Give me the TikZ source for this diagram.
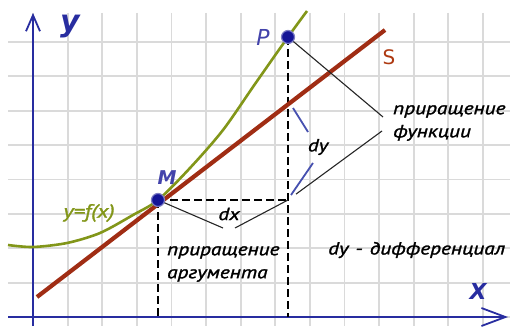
\documentclass[tikz,border=0pt]{standalone}
\usepackage{fontspec}
\setmainfont{DejaVu Sans}
\newfontfamily\lblfont{PT Sans}[FakeStretch=1.22, FakeBold=1.5]
\usetikzlibrary{arrows.meta,positioning,calc}

\definecolor{axisblue}{RGB}{40,45,160}
\definecolor{curveolive}{RGB}{130,150,25}
\definecolor{secantred}{RGB}{160,45,20}
\definecolor{gridgray}{RGB}{218,218,218}
\definecolor{dotblue}{RGB}{20,20,150}
\definecolor{bracketblue}{RGB}{70,80,175}

\begin{document}
\begin{tikzpicture}[x=1pt, y=-1pt,
    gridline/.style={gridgray, line width=1.8pt},
    axis/.style={axisblue, line width=2.6pt},
    guide/.style={black, line width=1.5pt, dash pattern=on 8pt off 4pt},
    pointer/.style={black!85, line width=1.1pt},
    dot/.style={circle, fill=dotblue, draw=dotblue!55, line width=1.2pt, minimum size=13pt, inner sep=0pt},
    lbl/.style={font=\lblfont\itshape\fontsize{17.5}{23}\selectfont, inner sep=0pt}]
    \useasboundingbox (0,0) rectangle (513,326);

    % Grid (one cell is about 34.5 px)
    \foreach \i in {0,...,13}
        \draw[gridline] ({33+34.6*\i},13) -- ({33+34.6*\i},326);
    \foreach \j in {0,...,8}
        \draw[gridline] (8,{317-34.4*\j}) -- (510,{317-34.4*\j});

    % Axes
    \draw[axis, -{Straight Barb[length=16pt, width=14pt, line width=1.8pt]}] (33,326) -- (33,13);
    \draw[axis, -{Straight Barb[length=24pt, width=18pt, line width=1.8pt]}] (8,317) -- (508,317);
    \node[axisblue, font=\bfseries\itshape\fontsize{30}{30}\selectfont, inner sep=0pt] (ylabel) at (70,27) {y};
    \node[axisblue, font=\bfseries\itshape\fontsize{22}{22}\selectfont, inner sep=0pt] (xlabel) at (478,291) {X};

    % Points M and P, and helper points
    \coordinate (M) at (158,200);
    \coordinate (P) at (288,37);
    \coordinate (Mfoot) at (158,317);
    \coordinate (Pfoot) at (288,317);
    \coordinate (C) at (288,200);

    % Dashed guides
    \draw[guide] (P) -- (Pfoot);
    \draw[guide] (M) -- (Mfoot);
    \draw[guide] (M) -- (C);

    % Tangent line S
    \coordinate (Sa) at (37,297);
    \coordinate (Sb) at (385,30);
    \draw[secantred, line width=4.2pt] (Sa) -- (Sb);
    \node[secantred!85!orange, font=\fontsize{20}{20}\selectfont, inner sep=0pt] (Slabel) at (389,57) {S};

    % Curve y=f(x)
    \draw[curveolive, line width=2.6pt] plot[smooth] coordinates
        {(8,245) (33,247) (67,243) (100,233) (133,215) (158,200) (190,168) (223,130) (255,84) (288,37) (307,11)};
    \node[lbl, curveolive, font=\lblfont\itshape\fontsize{19}{19}\selectfont] (flabel) at (89,213) {y=f(x)};

    % dx bracket
    \node[lbl] (dx) at (229,214) {dx};
    \coordinate (dxa) at (223,228);
    \coordinate (dxb) at (235,228);
    \draw[pointer] (M) -- (dxa);
    \draw[pointer] (dxb) -- (C);

    % dy bracket
    \node[lbl] (dy) at (318,147) {dy};
    \coordinate (dya) at (293,108);
    \coordinate (dyb) at (308,132);
    \coordinate (dyc) at (313,163);
    \coordinate (dyd) at (291,195);
    \draw[bracketblue, line width=1.8pt] (dya) -- (dyb);
    \draw[bracketblue, line width=1.8pt] (dyc) -- (dyd);

    % Labels of the increments
    \node[lbl, anchor=west, align=left] (incf) at (393,123) {приращение\\функции};
    \coordinate (fa) at (383,117);
    \coordinate (fb) at (382,131);
    \draw[pointer] (P) -- (fa);
    \draw[pointer, shorten <=10pt] (C) -- (fb);
    \node[lbl, anchor=west, align=left] (inca) at (167,264) {приращение\\аргумента};
    \node[lbl, anchor=west] (diff) at (328,250) {dy\hspace{7pt}-\hspace{7pt}дифференциал};

    % Dots
    \node[dot] (Mdot) at (M) {};
    \node[dot] (Pdot) at (P) {};
    \node[dotblue!80!white, font=\bfseries\itshape\fontsize{19}{19}\selectfont, inner sep=0pt] (Mlabel) at (167,178) {M};
    \node[dotblue!80!white, font=\itshape\fontsize{22}{22}\selectfont, inner sep=0pt] (Plabel) at (263,37) {P};
\end{tikzpicture}
\end{document}
